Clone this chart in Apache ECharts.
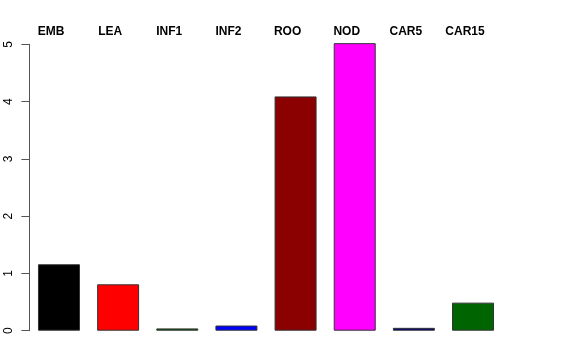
<!DOCTYPE html>
<html><head><meta charset="utf-8">
<script src="https://cdn.jsdelivr.net/npm/echarts@6/dist/echarts.min.js"></script>
<style>html,body{margin:0;padding:0;background:#fff}#c{width:576px;height:360px}</style>
</head><body><div id="c"></div>
<script>
var categories = ["EMB","LEA","INF1","INF2","ROO","NOD","CAR5","CAR15"];
var values = [1.16, 0.81, 0.04, 0.09, 4.09, 5.02, 0.05, 0.49];
var colors = ["#000000","#FF0000","#006400","#0000FF","#8B0000","#FF00FF","#000080","#006400"];
var yTicks = [0,1,2,3,4,5];

var chart = echarts.init(document.getElementById('c'), null, {renderer:'canvas'});
chart.setOption({
  animation:false,
  backgroundColor:'#fff',
  grid:{left:29.4, right:73.4, top:44.3, bottom:29.3, containLabel:false},
  xAxis:{
    type:'category', data:categories, position:'top',
    axisLine:{show:false}, axisTick:{show:false},
    axisLabel:{margin:7, color:'#000', fontFamily:'Liberation Sans, Arial, sans-serif', fontWeight:'bold', fontSize:12, interval:0, padding:[0,16,0,0]}
  },
  yAxis:{
    type:'value', min:yTicks[0], max:yTicks[yTicks.length-1], interval:1,
    splitLine:{show:false},
    axisLine:{show:true, lineStyle:{color:'#555', width:1}},
    axisTick:{show:true, length:8, lineStyle:{color:'#555'}},
    axisLabel:{rotate:90, margin:15, color:'#000', fontFamily:'Liberation Sans, Arial, sans-serif', fontSize:12}
  },
  series:[{
    type:'bar', clip:false, barCategoryGap:'29%',
    data: values.map(function(v,i){return {value:v, itemStyle:{color:colors[i]}};}),
    itemStyle:{borderColor:'#333', borderWidth:1}
  }]
});
</script></body></html>
